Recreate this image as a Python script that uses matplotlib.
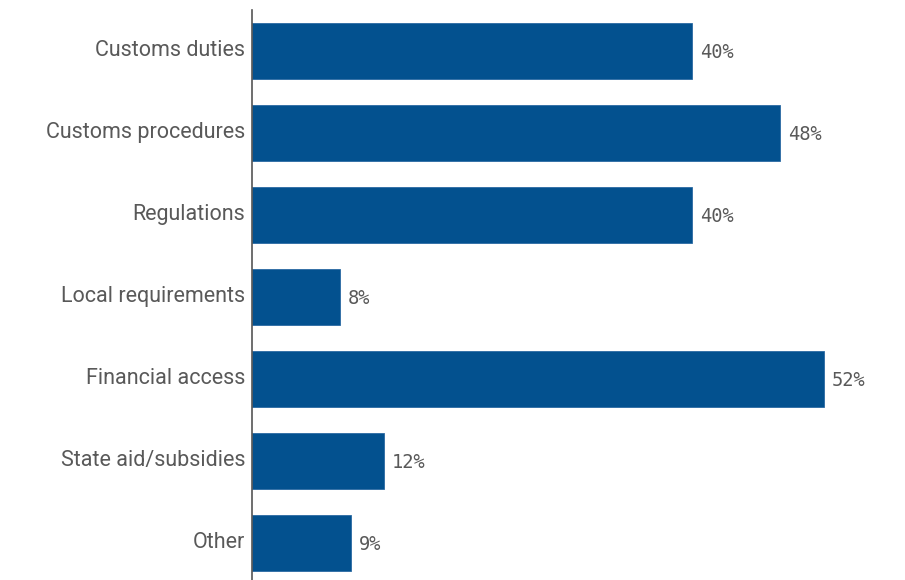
import matplotlib
matplotlib.use("Agg")
import matplotlib.pyplot as plt
from matplotlib.transforms import ScaledTranslation

categories = ["Customs duties", "Customs procedures", "Regulations", "Local requirements",
              "Financial access", "State aid/subsidies", "Other"]
values = [40, 48, 40, 8, 52, 12, 9]
value_labels = ["40%", "48%", "40%", "8%", "52%", "12%", "9%"]

BAR = "#03518f"
TXT = "#595959"

fig = plt.figure(figsize=(9.05, 5.8), dpi=100)
ax = fig.add_axes([252/905, -4/580, 1 - 252/905, 574/580])
y = list(range(len(categories)))
ax.barh(y, values, height=0.68, color=BAR, edgecolor="#2a6aa3", linewidth=0.6)
ax.set_ylim(len(categories) - 0.5, -0.5)
ax.set_xlim(0, (905 - 252) / 11)
ax.set_yticks(y)
ax.set_yticklabels(categories, fontsize=15.5, color=TXT, family="Roboto")
ax.tick_params(axis="y", length=0, pad=5)
off = ScaledTranslation(0, 3/100, fig.dpi_scale_trans)
for lbl in ax.get_yticklabels():
    lbl.set_transform(lbl.get_transform() + off)
ax.set_xticks([])
for s in ["top", "right", "bottom"]:
    ax.spines[s].set_visible(False)
ax.spines["left"].set_color("#555555")
ax.spines["left"].set_linewidth(1.2)
for yi, v, lab in zip(y, values, value_labels):
    ax.annotate(lab, (v, yi), xytext=(8, -1), textcoords="offset pixels",
                va="center", ha="left", fontsize=13.5, color=TXT, family="DejaVu Sans Mono")
fig.savefig("out.png", dpi=100)
